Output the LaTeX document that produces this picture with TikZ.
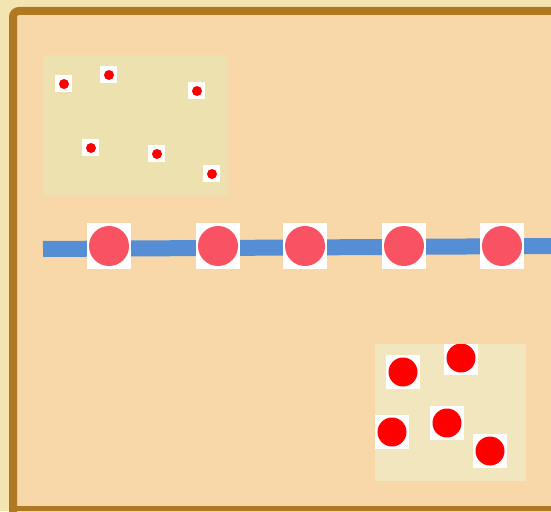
\documentclass[tikz,border=0pt]{standalone}
\definecolor{goldbg}{HTML}{F4E4B2}
\definecolor{peach}{HTML}{F8D8A8}
\definecolor{brownb}{HTML}{B07822}
\definecolor{panelA}{HTML}{EEE1B0}
\definecolor{panelB}{HTML}{F1E6BD}
\definecolor{dotred}{HTML}{FF0000}
\definecolor{bead}{HTML}{F95262}
\definecolor{rope}{HTML}{558ED5}
\tikzset{
  smalldot/.style={circle,fill=dotred,inner sep=0pt,minimum size=10pt},
  bigdot/.style={circle,fill=dotred,inner sep=0pt,minimum size=29pt},
  beadnode/.style={circle,fill=bead,inner sep=0pt,minimum size=40pt},
  beadback/.style={fill=white,inner sep=0pt,minimum width=44pt,minimum height=46pt},
}
\begin{document}
\begin{tikzpicture}[x=1pt,y=-1pt]
\useasboundingbox (0,0) rectangle (551,511);
\fill[goldbg] (0,0) rectangle (551,511);
% main board
\fill[peach] (13,11) rectangle (560,520);
\draw[brownb,line width=8pt,rounded corners=6pt] (560,11) -- (13,11) -- (13,520);
\draw[brownb,line width=5pt] (13,508.5) -- (560,508.5);
% top-left panel
\fill[panelA] (43,55) rectangle (228,195);
\foreach \n/\x/\y in {a/64/84,b/109/75,c/197/91,d/91/148,e/157/154,f/212/174}{
  \fill[white] (\x-9,\y-9) rectangle (\x+8,\y+8);
  \node[smalldot] (s\n) at (\x,\y) {};
}
% bottom-right panel
\fill[panelB] (375,344) rectangle (526,481);
\begin{scope}
\clip (375,344) rectangle (526,481);
\foreach \n/\x/\y in {a/403/372,b/461/358,c/392/432,d/447/423,e/490/451}{
  \fill[white] (\x-17,\y-17) rectangle (\x+17,\y+17);
  \node[bigdot] (t\n) at (\x,\y) {};
}
\end{scope}
% rope and beads
\coordinate (ropeL) at (43,249);
\coordinate (ropeR) at (551,246);
\draw[rope,line width=16pt] (ropeL) -- (ropeR);
\foreach \n/\x in {1/109,2/218,3/305,4/404,5/502}{
  \node[beadback] (w\n) at (\x,246) {};
  \node[beadnode] (b\n) at (\x,246) {};
}
\end{tikzpicture}
\end{document}
